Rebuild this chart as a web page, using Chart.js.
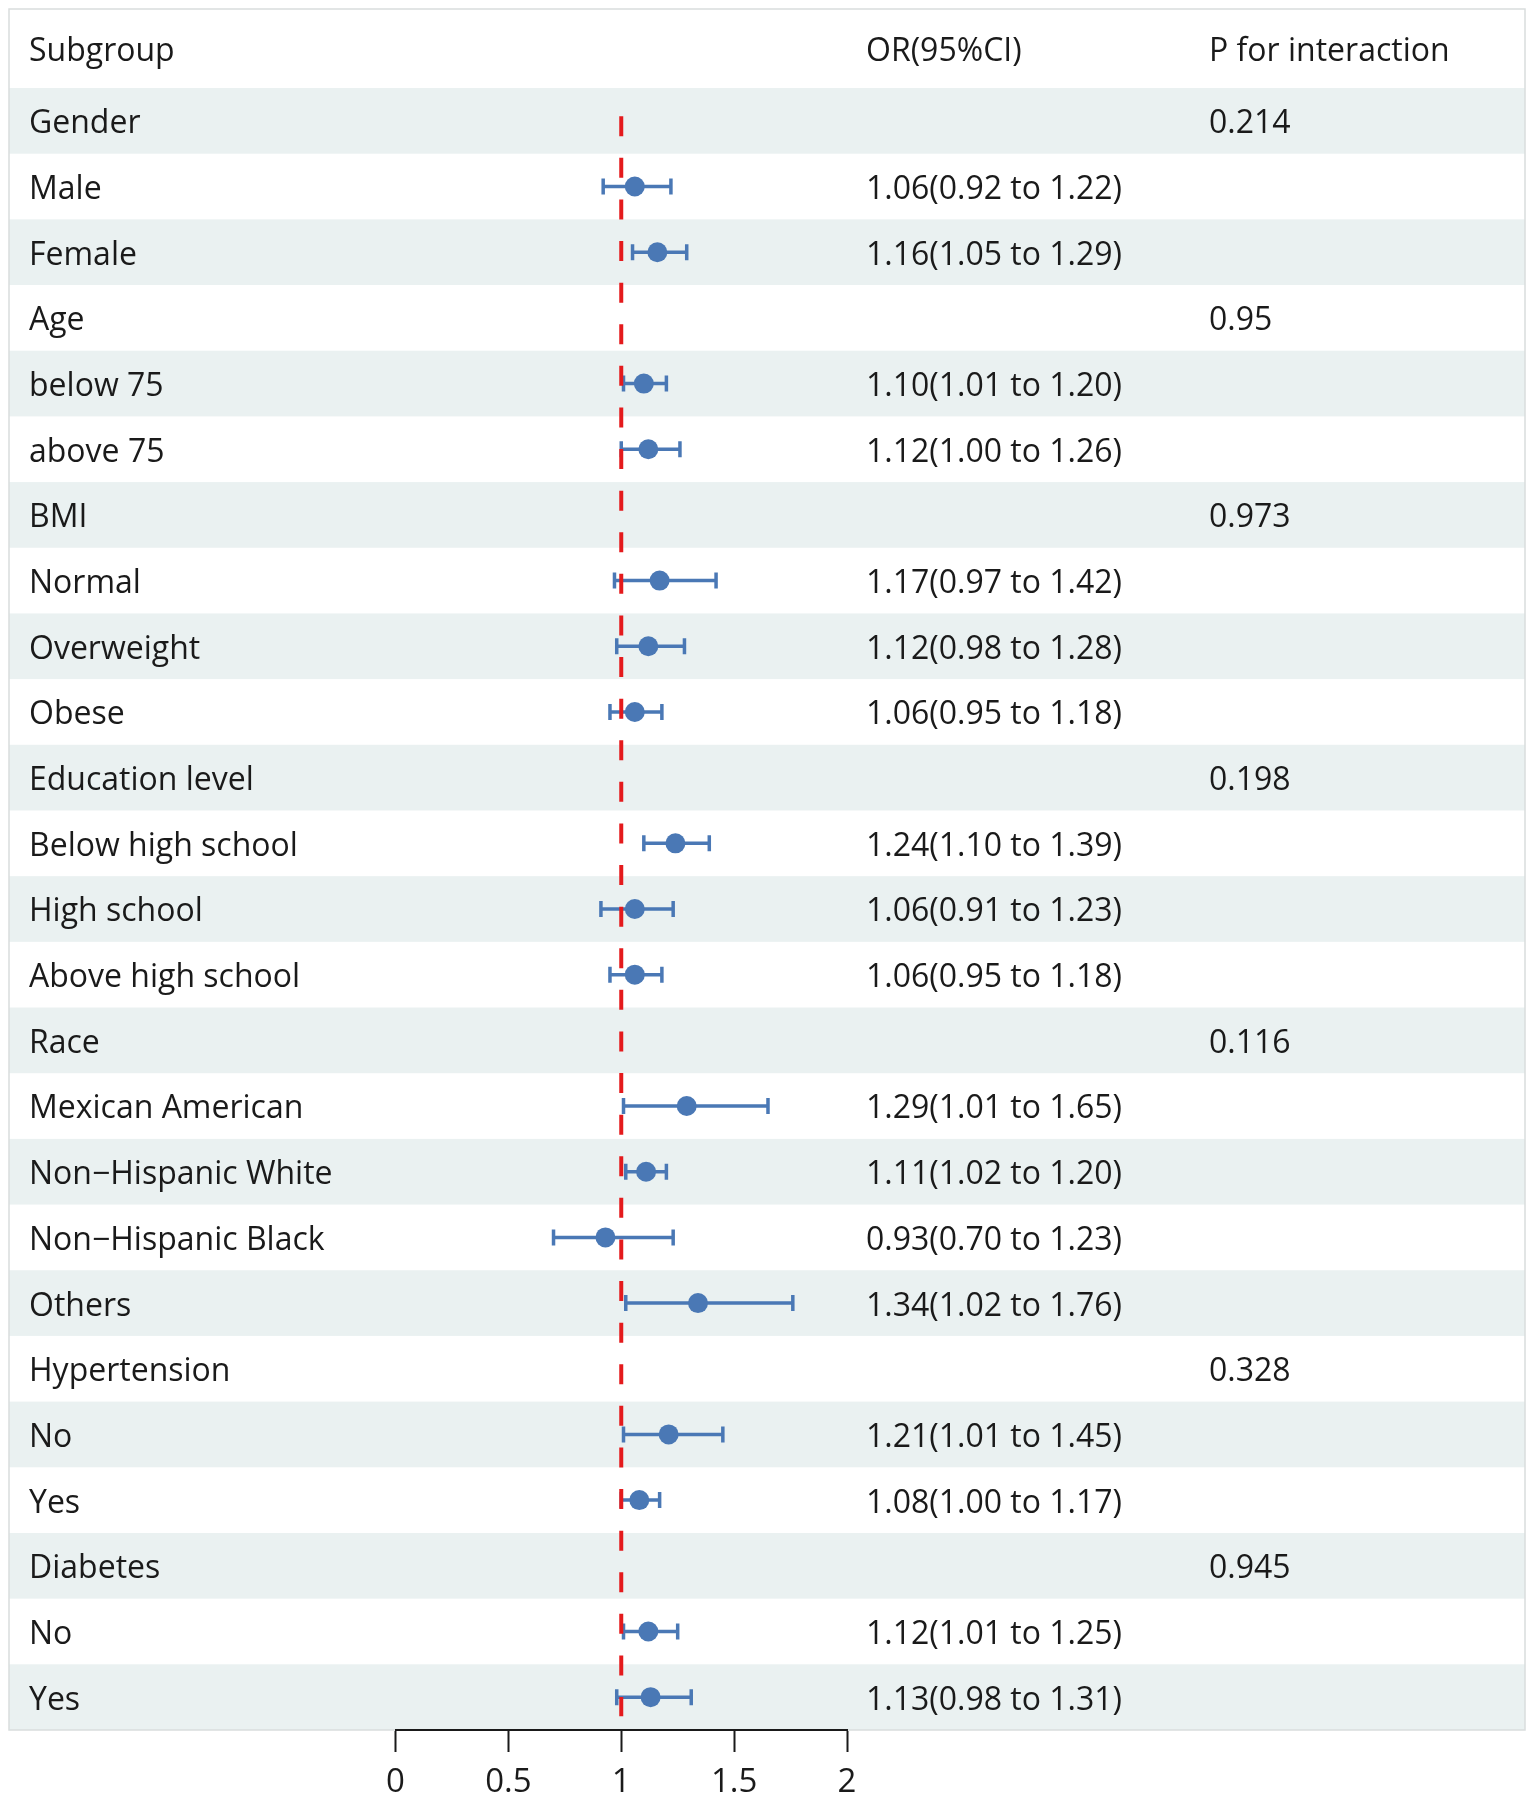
<!DOCTYPE html>
<html>
<head>
<meta charset="utf-8">
<script src="https://cdn.jsdelivr.net/npm/chart.js@4.4.1/dist/chart.umd.min.js"></script>
<style>
html,body{margin:0;padding:0;background:#fff;}
#wrap{width:1535px;height:1799px;}
canvas{display:block;}
</style>
</head>
<body>
<div id="wrap"><canvas id="c" width="1535" height="1799"></canvas></div>
<script>
// ---------- data ----------
const subgroups = ["Gender","Male","Female","Age","below 75","above 75","BMI","Normal","Overweight","Obese",
  "Education level","Below high school","High school","Above high school","Race","Mexican American",
  "Non\u2212Hispanic White","Non\u2212Hispanic Black","Others","Hypertension","No","Yes","Diabetes","No","Yes"];
const oddsRatio = [null,1.06,1.16,null,1.10,1.12,null,1.17,1.12,1.06,null,1.24,1.06,1.06,null,1.29,1.11,0.93,1.34,null,1.21,1.08,null,1.12,1.13];
const ciLower   = [null,0.92,1.05,null,1.01,1.00,null,0.97,0.98,0.95,null,1.10,0.91,0.95,null,1.01,1.02,0.70,1.02,null,1.01,1.00,null,1.01,0.98];
const ciUpper   = [null,1.22,1.29,null,1.20,1.26,null,1.42,1.28,1.18,null,1.39,1.23,1.18,null,1.65,1.20,1.23,1.76,null,1.45,1.17,null,1.25,1.31];
const pInteraction = ["0.214","","","0.95","","","0.973","","","","0.198","","","","0.116","","","","","0.328","","","0.945","",""];
const headers = ["Subgroup","OR(95%CI)","P for interaction"];
const xTicks = [0,0.5,1,1.5,2];
const refValue = 1;
const refSpan = [-0.07, 24.29];   // row-units covered by the dashed reference line

// ---------- style ----------
const FONT = "'Open Sans', 'Noto Sans', 'DejaVu Sans', sans-serif";
const FS = 32;
const TEXT = "#1a1a1a";
const BAND = "#eaf1f1";
const BLUE = "#4a78b5";
const RED = "#e41a1c";
const colX = [29, 866, 1209];
const frame = {left: 9, top: 9, right: 1525};

function fmt(v){ return v.toFixed(2); }

const tablePlugin = {
  id: 'table',
  beforeDraw(chart){
    const {ctx, chartArea, scales:{y}} = chart;
    ctx.save();
    ctx.fillStyle = '#fff';
    ctx.fillRect(0,0,chart.width,chart.height);
    // bands
    for (let i=0;i<subgroups.length;i++){
      if (i%2===0){
        const y0 = y.getPixelForValue(i-0.5), y1 = y.getPixelForValue(i+0.5);
        ctx.fillStyle = BAND;
        ctx.fillRect(frame.left, y0, frame.right-frame.left, y1-y0);
      }
    }
    const bottom = y.getPixelForValue(subgroups.length-0.5);
    ctx.strokeStyle = '#d9dddd';
    ctx.lineWidth = 1.5;
    ctx.strokeRect(frame.left, frame.top, frame.right-frame.left, bottom-frame.top);
    // text
    ctx.font = FS + "px " + FONT;
    ctx.fillStyle = TEXT;
    ctx.textAlign = 'left';
    ctx.textBaseline = 'alphabetic';
    const capOff = 0.357*FS + 1;
    const hy = (frame.top + chartArea.top)/2 + capOff;
    headers.forEach((h,k)=>ctx.fillText(h, colX[k], hy));
    for (let i=0;i<subgroups.length;i++){
      const cy = y.getPixelForValue(i) + capOff;
      ctx.fillText(subgroups[i], colX[0], cy);
      if (oddsRatio[i]!==null){
        ctx.fillText(fmt(oddsRatio[i]) + "(" + fmt(ciLower[i]) + " to " + fmt(ciUpper[i]) + ")", colX[1], cy);
      }
      if (pInteraction[i]) ctx.fillText(pInteraction[i], colX[2], cy);
    }
    ctx.restore();
  },
  beforeDatasetsDraw(chart){
    const {ctx, scales:{x,y}} = chart;
    ctx.save();
    ctx.strokeStyle = BLUE;
    ctx.lineWidth = 3.5;
    ctx.lineCap = 'butt';
    const capH = 8;
    for (let i=0;i<subgroups.length;i++){
      if (oddsRatio[i]===null) continue;
      const py = y.getPixelForValue(i);
      const xl = x.getPixelForValue(ciLower[i]), xh = x.getPixelForValue(ciUpper[i]);
      ctx.beginPath();
      ctx.moveTo(xl, py); ctx.lineTo(xh, py);
      ctx.moveTo(xl, py-capH); ctx.lineTo(xl, py+capH);
      ctx.moveTo(xh, py-capH); ctx.lineTo(xh, py+capH);
      ctx.stroke();
    }
    ctx.restore();
  }
};

const points = [];
oddsRatio.forEach((v,i)=>{ if (v!==null) points.push({x:v, y:i}); });

new Chart(document.getElementById('c'), {
  type: 'scatter',
  data: {
    datasets: [
      {
        label: 'OR',
        data: points,
        pointRadius: 10,
        pointHoverRadius: 10,
        backgroundColor: BLUE,
        borderWidth: 0,
        order: 1
      },
      {
        label: 'ref',
        type: 'line',
        data: [{x:refValue, y:refSpan[0]}, {x:refValue, y:refSpan[1]}],
        borderColor: RED,
        borderWidth: 4,
        borderDash: [20, 21.6],
        pointRadius: 0,
        fill: false,
        order: 0
      }
    ]
  },
  options: {
    responsive: false,
    animation: false,
    devicePixelRatio: 1,
    layout: { padding: { top: 88, left: 395.5, right: 688, bottom: -14 } },
    plugins: { legend: {display:false}, tooltip: {enabled:false} },
    scales: {
      x: {
        type: 'linear',
        position: 'bottom',
        min: 0, max: 2,
        afterBuildTicks: (s)=>{ s.ticks = xTicks.map(v=>({value:v})); },
        ticks: {
          color: TEXT,
          padding: 14,
          font: { family: FONT, size: 33, lineHeight: 1 },
          callback: (v)=>String(v)
        },
        grid: { drawOnChartArea: false, drawTicks: true, tickLength: 22, tickWidth: 2, tickColor: TEXT },
        border: { display: true, color: TEXT, width: 2 }
      },
      y: {
        type: 'linear',
        min: -0.5, max: 24.5,
        reverse: true,
        display: false
      }
    }
  },
  plugins: [tablePlugin]
});
</script>
</body>
</html>
